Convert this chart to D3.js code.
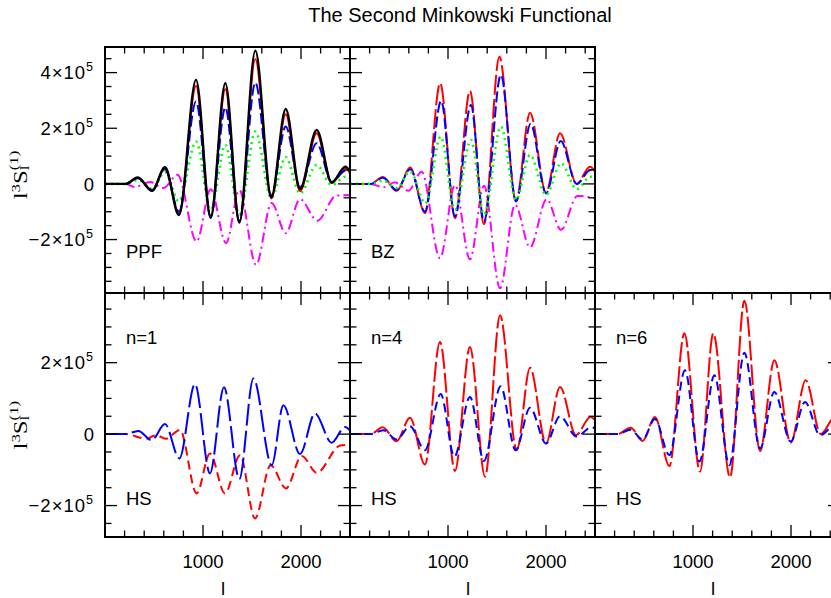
<!DOCTYPE html>
<html><head><meta charset="utf-8">
<script src="https://cdn.jsdelivr.net/npm/d3@7"></script>
<style>body{margin:0;background:#fff}svg{display:block}</style>
</head><body>
<svg id="c" width="831" height="598"></svg>
<script>
// ---- data (l, value in units of 1e5) ----
const UNIT = 1e5;
const xTickLabels = [1000, 2000];
const topYTickLabels = [4, 2, 0, -2];
const botYTickLabels = [2, 0, -2];

const ppfBlack = [[0,0],[210,0],[335,0.23],[480,-0.25],[612,0.60],[755,-1.12],[929,3.74],[1078,-1.22],[1228,3.62],[1371,-1.39],[1534,4.79],[1697,-0.48],[1844,2.69],[1990,-0.19],[2160,1.94],[2313,0.05],[2453,0.62],[2500,0.45]];
const ppfRed   = [[0,0],[210,0],[335,0.22],[480,-0.24],[612,0.58],[755,-1.08],[929,3.52],[1078,-1.19],[1228,3.40],[1371,-1.37],[1534,4.48],[1697,-0.52],[1844,2.50],[1990,-0.26],[2160,1.82],[2313,0.03],[2453,0.56],[2500,0.40]];
const ppfBlue  = [[0,0],[210,0],[335,0.20],[480,-0.22],[612,0.53],[755,-1.00],[929,2.96],[1078,-1.17],[1228,2.75],[1371,-1.35],[1534,3.64],[1697,-0.42],[1844,2.06],[1990,-0.12],[2160,1.46],[2313,0.07],[2456,0.48],[2500,0.38]];
const ppfGreen = [[0,0],[210,0],[335,0.14],[480,-0.18],[612,0.42],[755,-0.63],[929,1.52],[1078,-0.93],[1228,1.40],[1371,-1.11],[1534,1.88],[1697,-0.51],[1844,0.96],[1990,-0.34],[2160,0.68],[2313,-0.04],[2456,0.26],[2500,0.20]];
const ppfMagenta = [[0,0],[210,0],[300,-0.11],[460,0.07],[595,-0.15],[740,0.33],[935,-2.07],[1078,-0.19],[1235,-2.13],[1371,-0.22],[1541,-2.91],[1700,-0.69],[1844,-1.77],[1990,-0.55],[2167,-1.32],[2360,-0.42],[2500,-0.40]];

const bzRed   = [[0,0],[210,0],[335,0.25],[476,-0.25],[615,0.59],[765,-1.05],[920,3.62],[1071,-1.23],[1224,3.34],[1367,-1.45],[1524,4.57],[1694,-0.60],[1837,2.56],[2000,-0.30],[2143,1.82],[2313,0.00],[2449,0.62],[2500,0.45]];
const bzBlue  = [[0,0],[210,0],[335,0.22],[476,-0.22],[615,0.53],[765,-1.00],[930,2.98],[1071,-1.17],[1234,2.84],[1367,-1.35],[1540,3.92],[1694,-0.63],[1843,2.16],[2000,-0.34],[2150,1.54],[2313,0.00],[2452,0.50],[2500,0.38]];
const bzGreen = [[0,0],[210,0],[335,0.12],[480,-0.15],[612,0.45],[770,-0.70],[925,1.70],[1071,-0.93],[1234,1.58],[1367,-1.11],[1540,2.06],[1694,-0.57],[1837,1.04],[2000,-0.40],[2153,0.74],[2313,-0.19],[2452,0.26],[2500,0.20]];
const bzMagenta = [[0,0],[210,0],[340,-0.12],[459,0.06],[510,-0.04],[595,-0.25],[731,0.44],[918,-2.67],[1071,-0.04],[1224,-2.71],[1367,-0.07],[1531,-3.75],[1684,-0.75],[1837,-2.28],[2007,-0.55],[2153,-1.65],[2320,-0.43],[2500,-0.52]];

const n1Blue = [[0,0],[210,0],[340,0.09],[476,-0.17],[612,0.28],[759,-0.68],[918,1.40],[1071,-1.10],[1214,1.31],[1371,-1.26],[1514,1.56],[1701,-0.87],[1820,0.81],[1990,-0.56],[2143,0.58],[2313,-0.24],[2449,0.20],[2500,0.10]];
const n1Red  = [[0,0],[210,0],[425,-0.13],[520,-0.03],[620,-0.13],[765,0.12],[935,-1.66],[1071,-0.54],[1224,-1.66],[1378,-0.59],[1531,-2.36],[1690,-0.87],[1847,-1.52],[2007,-0.61],[2160,-1.08],[2400,-0.32],[2500,-0.30]];

const n4Red  = [[0,0],[210,0],[333,0.19],[476,-0.20],[612,0.46],[765,-0.85],[918,2.58],[1071,-1.03],[1224,2.44],[1378,-1.19],[1531,3.33],[1701,-0.45],[1837,1.86],[2000,-0.26],[2143,1.32],[2306,-0.03],[2453,0.48],[2500,0.40]];
const n4Blue = [[0,0],[210,0],[340,0.11],[476,-0.15],[612,0.22],[765,-0.45],[925,1.12],[1065,-0.63],[1224,1.04],[1367,-0.75],[1537,1.34],[1690,-0.45],[1837,0.74],[2000,-0.26],[2143,0.50],[2313,-0.07],[2466,0.20],[2500,0.15]];

const n6Red  = [[0,0],[230,0],[364,0.18],[486,-0.19],[612,0.48],[759,-0.90],[912,2.82],[1071,-1.05],[1207,2.82],[1378,-1.21],[1524,3.73],[1684,-0.47],[1830,2.07],[1997,-0.24],[2150,1.51],[2303,0.00],[2450,0.48],[2500,0.40]];
const n6Blue = [[0,0],[230,0],[364,0.12],[486,-0.15],[612,0.42],[759,-0.59],[918,1.79],[1065,-0.77],[1218,1.65],[1371,-0.87],[1524,2.28],[1684,-0.40],[1830,1.18],[1997,-0.21],[2143,0.90],[2296,-0.03],[2450,0.25],[2500,0.20]];

// ---- layout ----
const svg = d3.select("#c");
svg.append("rect").attr("width",831).attr("height",598).attr("fill","#fff");
const SANS = "Liberation Sans, Arial, Helvetica, sans-serif";
const SERIF = "Liberation Serif, Times New Roman, serif";
const lDomain = [0, 2500];
const topDomain = [-3.92, 4.92];
const botDomain = [-2.88, 3.95];

const styles = {
  black:   {c:"#000000", w:2.4, d:null},
  redS:    {c:"#ff0000", w:2, d:null},
  blueD:   {c:"#0000ff", w:2, d:"11,4"},
  blueLD:  {c:"#0000ff", w:2, d:"22,5"},
  blueSD:  {c:"#0000ff", w:2, d:"9,5"},
  redLD:   {c:"#ff0000", w:2, d:"20,4"},
  redSD:   {c:"#ff0000", w:2, d:"9,5"},
  green:   {c:"#00ff00", w:2.6, d:"2,4"},
  magenta: {c:"#ff00ff", w:2, d:"10,4,2,4"}
};

const panels = [
  {x0:105, y0:47,  w:245, h:246, dom:topDomain, yl:true,  xl:false, labels:[["PPF",211]],
   series:[[ppfMagenta,"magenta"],[ppfGreen,"green"],[ppfRed,"redS"],[ppfBlue,"blueD"],[ppfBlack,"black"]]},
  {x0:350, y0:47,  w:245, h:246, dom:topDomain, yl:false, xl:false, labels:[["BZ",211]],
   series:[[bzMagenta,"magenta"],[bzRed,"redLD"],[bzBlue,"blueD"],[bzGreen,"green"]]},
  {x0:105, y0:293, w:245, h:244, dom:botDomain, yl:true,  xl:true, labels:[["n=1",51],["HS",212]],
   series:[[n1Red,"redSD"],[n1Blue,"blueLD"]]},
  {x0:350, y0:293, w:245, h:244, dom:botDomain, yl:false, xl:true, labels:[["n=4",51],["HS",212]],
   series:[[n4Red,"redLD"],[n4Blue,"blueSD"]]},
  {x0:595, y0:293, w:245, h:244, dom:botDomain, yl:false, xl:true, labels:[["n=6",51],["HS",212]],
   series:[[n6Red,"redLD"],[n6Blue,"blueSD"]]}
];

panels.forEach((p, i) => {
  const x = d3.scaleLinear().domain(lDomain).range([p.x0, p.x0 + p.w]);
  const y = d3.scaleLinear().domain(p.dom).range([p.y0 + p.h, p.y0]);
  const cid = "clip" + i;
  svg.append("clipPath").attr("id", cid).append("rect")
     .attr("x", p.x0).attr("y", p.y0).attr("width", p.w).attr("height", p.h);
  const line = d3.line().x(d => x(d[0])).y(d => y(d[1])).curve(d3.curveMonotoneX);
  const g = svg.append("g").attr("clip-path", `url(#${cid})`);
  p.series.forEach(([data, sk]) => {
    const s = styles[sk];
    g.append("path").datum(data).attr("d", line).attr("fill","none")
     .attr("stroke", s.c).attr("stroke-width", s.w)
     .attr("stroke-dasharray", s.d).attr("stroke-linejoin","round");
  });

  // ticks
  const tg = svg.append("g").attr("stroke","#000").attr("stroke-width",1.3);
  const xt = d3.range(200, 2500, 200);
  xt.forEach(l => {
    const len = (l % 1000 === 0) ? 12 : 6.5;
    const X = x(l);
    tg.append("line").attr("x1",X).attr("x2",X).attr("y1",p.y0).attr("y2",p.y0+len);
    tg.append("line").attr("x1",X).attr("x2",X).attr("y1",p.y0+p.h).attr("y2",p.y0+p.h-len);
  });
  const kmin = Math.ceil(p.dom[0]/0.5), kmax = Math.floor(p.dom[1]/0.5);
  d3.range(kmin, kmax + 1).forEach(k => {
    const v = k * 0.5;
    const len = (k % 4 === 0) ? 12 : 6.5;
    const Y = y(v);
    tg.append("line").attr("x1",p.x0).attr("x2",p.x0+len).attr("y1",Y).attr("y2",Y);
    tg.append("line").attr("x1",p.x0+p.w).attr("x2",p.x0+p.w-len).attr("y1",Y).attr("y2",Y);
  });

  svg.append("rect").attr("x",p.x0).attr("y",p.y0).attr("width",p.w).attr("height",p.h)
     .attr("fill","none").attr("stroke","#000").attr("stroke-width",2);

  p.labels.forEach(([t, dy]) => {
    svg.append("text").attr("x", p.x0 + 21).attr("y", p.y0 + dy)
       .attr("font-family", SANS).attr("font-size", 18.5).attr("fill","#000").text(t);
  });

  if (p.yl) {
    const labs = (p.dom === topDomain) ? topYTickLabels : botYTickLabels;
    labs.forEach(v => {
      const t = svg.append("text").attr("x", 94).attr("y", y(v)).attr("dy","0.36em")
        .attr("text-anchor","end").attr("font-family", SANS).attr("font-size", 18.5)
        .attr("letter-spacing", v === 0 ? 0 : 1).attr("fill","#000");
      if (v === 0) { t.text("0"); }
      else {
        t.append("tspan").text((v < 0 ? "\u2212" : "") + Math.abs(v) + "\u00d710");
        t.append("tspan").attr("font-size", 12.5).attr("dy", -8).text("5");
      }
    });
    // y axis title
    const cy = y(0) - 9;
    const g2 = svg.append("g").attr("transform", `translate(27,${cy}) rotate(-90) scale(1.3,1)`);
    const tt = g2.append("text").attr("text-anchor","middle").attr("font-family", SERIF)
      .attr("font-size", 19).attr("fill","#000");
    tt.append("tspan").text("l");
    tt.append("tspan").attr("font-size", 13).attr("dy", -7).text("3");
    tt.append("tspan").attr("dy", 7).text("S");
    tt.append("tspan").attr("font-size", 13).attr("dy", 2).text("l");
    tt.append("tspan").attr("font-size", 13).attr("dy", -11).attr("dx", -3.6).text("(1)");
  }
  if (p.xl) {
    xTickLabels.forEach(l => {
      svg.append("text").attr("x", x(l)).attr("y", 568).attr("text-anchor","middle")
        .attr("font-family", SANS).attr("font-size", 18.5).attr("fill","#000").text(l);
    });
    svg.append("text").attr("x", p.x0 + 118).attr("y", 595).attr("text-anchor","middle")
      .attr("font-family", SANS).attr("font-size", 18.5).attr("fill","#000").text("l");
  }
});

svg.append("text").attr("x", 460).attr("y", 22).attr("text-anchor","middle")
  .attr("font-family", SANS).attr("font-size", 20).attr("fill","#000")
  .text("The Second Minkowski Functional");
</script>
</body></html>
